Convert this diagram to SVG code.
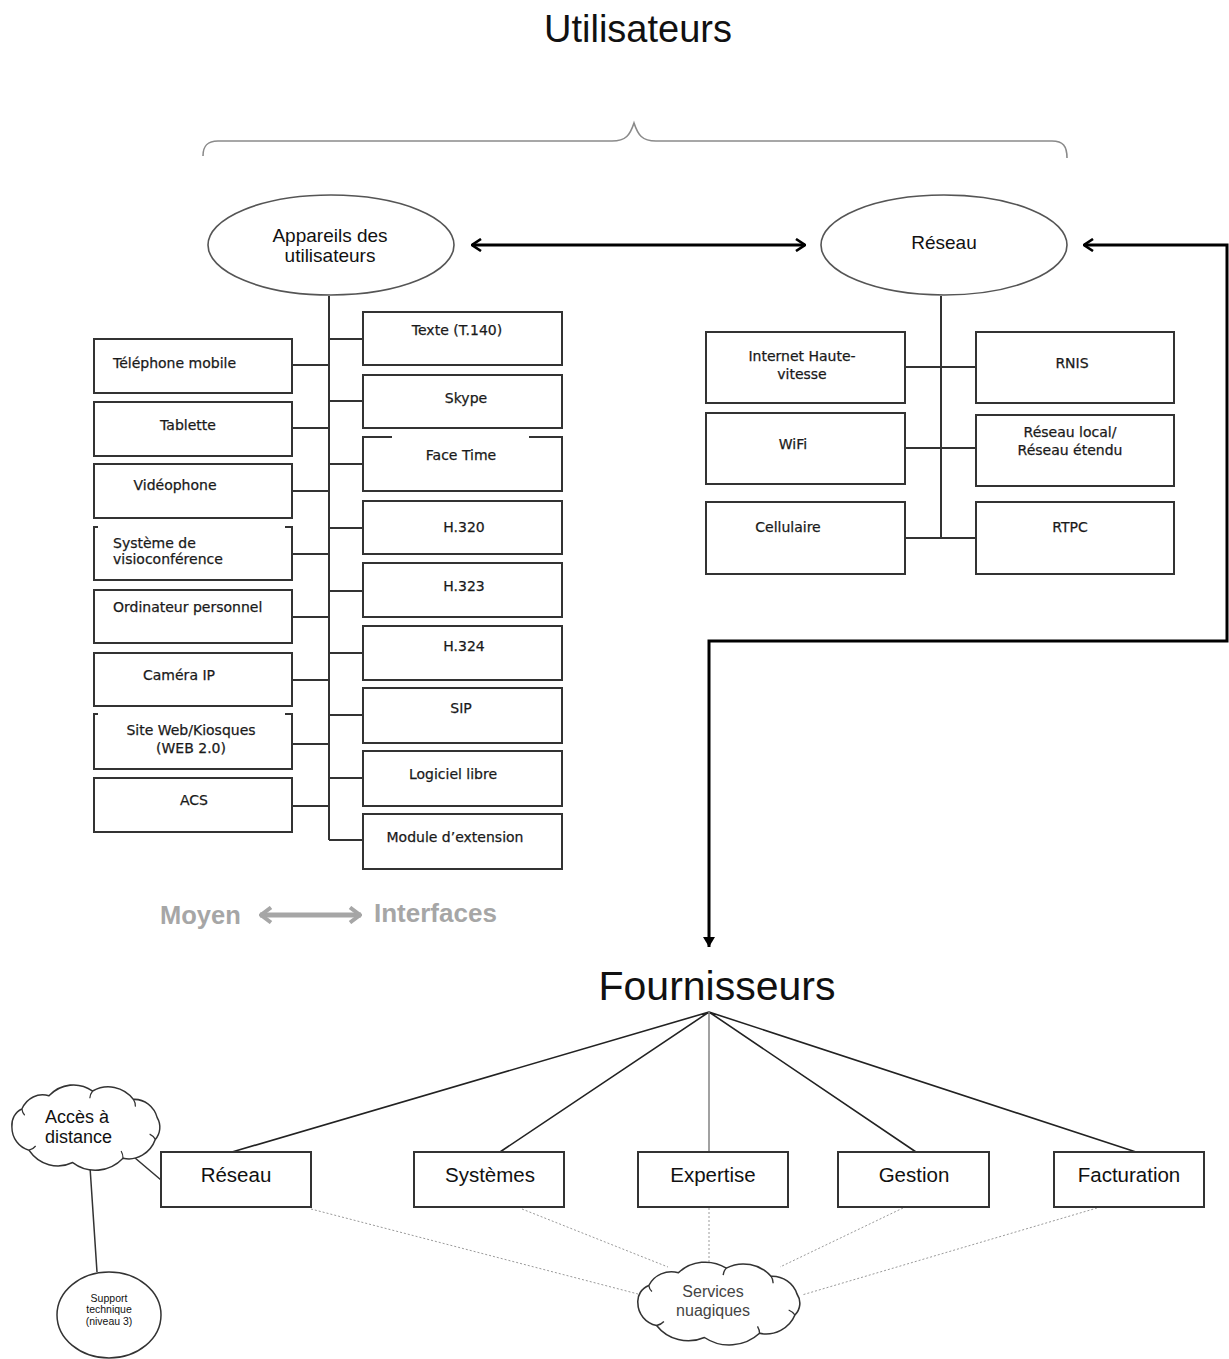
<svg xmlns="http://www.w3.org/2000/svg" width="1229" height="1359" viewBox="0 0 1229 1359">
  <defs>
    <style>
      .box { fill: #fff; stroke: #333; stroke-width: 2; }
      .oval { fill: #fff; stroke: #555; stroke-width: 1.6; }
      .bt { font-family: "DejaVu Sans", Verdana, sans-serif; font-size: 14px; fill: #1a1a1a; stroke: #1a1a1a; stroke-width: 0.25; text-anchor: middle; }
      .bl { text-anchor: start; }
      .sans { font-family: "Liberation Sans", Arial, sans-serif; fill: #111; text-anchor: middle; }
      .start { text-anchor: start; }
      .link { fill: none; stroke: #333; stroke-width: 2; }
      .fan { fill: none; stroke: #222; stroke-width: 1.6; }
      .dot { fill: none; stroke: #9a9a9a; stroke-width: 1; stroke-dasharray: 2 2; }
      .heavy { fill: none; stroke: #000; stroke-width: 3; }
      .legend { font-family: "Liberation Sans", Arial, sans-serif; font-weight: bold; fill: #a6a6a6; }
      .cloud { fill: #fff; stroke: #333; stroke-width: 1.5; }
      .curl { fill: none; stroke: #333; stroke-width: 1.3; }
    </style>
    <marker id="chev" viewBox="0 0 12 14" refX="11" refY="7" markerWidth="12" markerHeight="14" markerUnits="userSpaceOnUse" orient="auto-start-reverse">
      <path d="M2,1 L11,7 L2,13" fill="none" stroke="#000" stroke-width="2.6"/>
    </marker>
    <marker id="gchev" viewBox="0 0 14 18" refX="13" refY="9" markerWidth="14" markerHeight="18" markerUnits="userSpaceOnUse" orient="auto-start-reverse">
      <path d="M2,1.5 L12,9 L2,16.5" fill="none" stroke="#a6a6a6" stroke-width="4"/>
    </marker>
    <marker id="tri" viewBox="0 0 10 12" refX="10" refY="6" markerWidth="10" markerHeight="12" markerUnits="userSpaceOnUse" orient="auto">
      <path d="M0,0 L10,6 L0,12 Z" fill="#000"/>
    </marker>
    <!-- scalloped cloud outline centred on 0,0 -->
    <path id="cloudShape" d="M-78,0 A17,17 0 0 1 -67.5,-17.5 A24,24 0 0 1 -39,-30.3 A37,37 0 0 1 7,-34.9 A35,35 0 0 1 50,-26.8 A25,25 0 0 1 75,-9 A17,17 0 0 1 73,12 A30,30 0 0 1 39,30.3 A42,42 0 0 1 -14,34.5 A38,38 0 0 1 -60,22.5 A23,23 0 0 1 -78,0 Z"/>
    <!-- small inner curls of the cloud -->
    <path id="cloudCurls" d="M-67.5,-17.5 a10,10 0 0 0 3,6 M7,-34.9 a12,12 0 0 0 -3,7 M50,-26.8 a12,12 0 0 1 2,7 M73,12 a14,14 0 0 0 -6,-5 M39,30.3 a14,14 0 0 0 -2,-7 M-60,22.5 a12,12 0 0 0 7,-4"/>
  </defs>

  <rect width="1229" height="1359" fill="#fff"/>

  <!-- headings -->
  <text id="title-users" class="sans" x="638" y="42" font-size="38">Utilisateurs</text>
  <path id="brace" d="M203,156 C203,146 207,141 218,141 L612,141 C626,141 630,135 634,123 C638,135 642,141 656,141 L1052,141 C1063,141 1067,146 1067,158" fill="none" stroke="#8a8a8a" stroke-width="1.6"/>

  <g id="connectors">
    <!-- device / interface trunk -->
    <path class="link" d="M329,296 V840"/>
    <path class="link" d="M292,365 H329 M292,428 H329 M292,491 H329 M292,554 H329 M292,617 H329 M292,680 H329 M292,744 H329 M292,806 H329"/>
    <path class="link" d="M329,339 H363 M329,401 H363 M329,464 H363 M329,528 H363 M329,591 H363 M329,653 H363 M329,715 H363 M329,778 H363 M329,840 H363"/>
    <!-- network trunk -->
    <path class="link" d="M941,296 V538"/>
    <path class="link" d="M905,367 H976 M905,448 H976 M905,538 H976"/>
    <!-- heavy arrows -->
    <path class="heavy" d="M472,245 H805" marker-start="url(#chev)" marker-end="url(#chev)"/>
    <path class="heavy" d="M1084,245 H1227 V641 H709 V947" marker-start="url(#chev)" marker-end="url(#tri)"/>
    <!-- legend arrow -->
    <path d="M260,915 H361" fill="none" stroke="#a6a6a6" stroke-width="5" marker-start="url(#gchev)" marker-end="url(#gchev)"/>
    <!-- provider fan -->
    <path class="fan" d="M709,1012 L232,1152 M709,1012 L500,1152 M709,1012 L916,1152 M709,1012 L1136,1152"/>
    <path d="M709,1012 V1152" fill="none" stroke="#8a8a8a" stroke-width="1.6"/>
    <!-- cloud services dotted links -->
    <path class="dot" d="M311,1209 L638,1294 M522,1209 L668,1267 M709,1208 V1263 M903,1208 L780,1267 M1097,1208 L802,1295"/>
    <!-- remote access links -->
    <path d="M128,1152 L161,1180 M90,1167 L97,1272" fill="none" stroke="#333" stroke-width="1.5"/>
  </g>

  <!-- ovals -->
  <g id="n-appareils">
    <ellipse class="oval" cx="331" cy="245" rx="123" ry="50"/>
    <text class="sans" x="330" y="242" font-size="19">Appareils des</text>
    <text class="sans" x="330" y="262" font-size="19">utilisateurs</text>
  </g>
  <g id="n-reseau">
    <ellipse class="oval" cx="944" cy="245" rx="123" ry="50"/>
    <text class="sans" x="944" y="249" font-size="19">Réseau</text>
  </g>

  <!-- user devices -->
  <g id="n-telephone"><rect class="box" x="94" y="339" width="198" height="54"/><text class="bt bl" x="113" y="368">Téléphone mobile</text></g>
  <g id="n-tablette"><rect class="box" x="94" y="402" width="198" height="54"/><text class="bt" x="188" y="430">Tablette</text></g>
  <g id="n-videophone"><rect class="box" x="94" y="464" width="198" height="54"/><text class="bt" x="175" y="490">Vidéophone</text></g>
  <g id="n-visio"><path class="box" d="M98,527 H94 V580 H292 V527 H285"/><text class="bt bl" x="113" y="548">Système de</text><text class="bt bl" x="113" y="564">visioconférence</text></g>
  <g id="n-ordinateur"><rect class="box" x="94" y="590" width="198" height="53"/><text class="bt bl" x="113" y="612">Ordinateur personnel</text></g>
  <g id="n-camera"><rect class="box" x="94" y="653" width="198" height="53"/><text class="bt" x="179" y="680">Caméra IP</text></g>
  <g id="n-siteweb"><path class="box" d="M98,714 H94 V769 H292 V714 H285"/><text class="bt" x="191" y="735">Site Web/Kiosques</text><text class="bt" x="191" y="753">(WEB 2.0)</text></g>
  <g id="n-acs"><rect class="box" x="94" y="778" width="198" height="54"/><text class="bt" x="194" y="805">ACS</text></g>

  <!-- interfaces -->
  <g id="n-texte"><rect class="box" x="363" y="312" width="199" height="53"/><text class="bt" x="457" y="335">Texte (T.140)</text></g>
  <g id="n-skype"><rect class="box" x="363" y="375" width="199" height="53"/><text class="bt" x="466" y="403">Skype</text></g>
  <g id="n-facetime"><path class="box" d="M392,437 H363 V491 H562 V437 H529"/><text class="bt" x="461" y="460">Face Time</text></g>
  <g id="n-h320"><rect class="box" x="363" y="501" width="199" height="53"/><text class="bt" x="464" y="532">H.320</text></g>
  <g id="n-h323"><rect class="box" x="363" y="563" width="199" height="54"/><text class="bt" x="464" y="591">H.323</text></g>
  <g id="n-h324"><rect class="box" x="363" y="626" width="199" height="54"/><text class="bt" x="464" y="651">H.324</text></g>
  <g id="n-sip"><rect class="box" x="363" y="688" width="199" height="55"/><text class="bt" x="461" y="713">SIP</text></g>
  <g id="n-logiciel"><rect class="box" x="363" y="751" width="199" height="55"/><text class="bt" x="453" y="779">Logiciel libre</text></g>
  <g id="n-module"><rect class="box" x="363" y="814" width="199" height="55"/><text class="bt" x="455" y="842">Module d’extension</text></g>

  <!-- network types -->
  <g id="n-internet"><rect class="box" x="706" y="332" width="199" height="71"/><text class="bt" x="802" y="361">Internet Haute-</text><text class="bt" x="802" y="379">vitesse</text></g>
  <g id="n-wifi"><rect class="box" x="706" y="413" width="199" height="71"/><text class="bt" x="793" y="449">WiFi</text></g>
  <g id="n-cellulaire"><rect class="box" x="706" y="502" width="199" height="72"/><text class="bt" x="788" y="532">Cellulaire</text></g>
  <g id="n-rnis"><rect class="box" x="976" y="332" width="198" height="71"/><text class="bt" x="1072" y="368">RNIS</text></g>
  <g id="n-lan"><rect class="box" x="976" y="415" width="198" height="71"/><text class="bt" x="1070" y="437">Réseau local/</text><text class="bt" x="1070" y="455">Réseau étendu</text></g>
  <g id="n-rtpc"><rect class="box" x="976" y="502" width="198" height="72"/><text class="bt" x="1070" y="532">RTPC</text></g>

  <!-- legend -->
  <g id="legend">
    <text class="legend" x="160" y="924" font-size="25.5">Moyen</text>
    <text class="legend" x="374" y="922" font-size="26">Interfaces</text>
  </g>

  <!-- providers -->
  <text id="title-providers" class="sans" x="717" y="1000" font-size="41">Fournisseurs</text>
  <g id="p-reseau"><rect class="box" x="161" y="1152" width="150" height="55" stroke-width="1.6"/><text class="sans" x="236" y="1182" font-size="20.5">Réseau</text></g>
  <g id="p-systemes"><rect class="box" x="414" y="1152" width="150" height="55" stroke-width="1.6"/><text class="sans" x="490" y="1182" font-size="20.5">Systèmes</text></g>
  <g id="p-expertise"><rect class="box" x="638" y="1152" width="150" height="55" stroke-width="1.6"/><text class="sans" x="713" y="1182" font-size="20.5">Expertise</text></g>
  <g id="p-gestion"><rect class="box" x="838" y="1152" width="151" height="55" stroke-width="1.6"/><text class="sans" x="914" y="1182" font-size="20.5">Gestion</text></g>
  <g id="p-facturation"><rect class="box" x="1054" y="1152" width="150" height="55" stroke-width="1.6"/><text class="sans" x="1129" y="1182" font-size="20.5">Facturation</text></g>

  <!-- clouds and support -->
  <g id="n-acces">
    <g transform="translate(86,1127) scale(0.95,1.03)">
      <use href="#cloudShape" class="cloud"/>
      <use href="#cloudCurls" class="curl"/>
    </g>
    <text class="sans start" x="45" y="1123" font-size="18">Accès à</text>
    <text class="sans start" x="45" y="1143" font-size="18">distance</text>
  </g>
  <g id="n-services">
    <g transform="translate(719,1303) scale(1.04,1)">
      <use href="#cloudShape" class="cloud"/>
      <use href="#cloudCurls" class="curl"/>
    </g>
    <text class="sans" x="713" y="1297" font-size="16" style="fill:#444">Services</text>
    <text class="sans" x="713" y="1316" font-size="16" style="fill:#444">nuagiques</text>
  </g>
  <g id="n-support">
    <ellipse cx="109" cy="1315" rx="52" ry="43" fill="#fff" stroke="#333" stroke-width="1.5"/>
    <text class="sans" x="109" y="1302" font-size="10.5">Support</text>
    <text class="sans" x="109" y="1313" font-size="10.5">technique</text>
    <text class="sans" x="109" y="1325" font-size="10.5">(niveau 3)</text>
  </g>
</svg>
